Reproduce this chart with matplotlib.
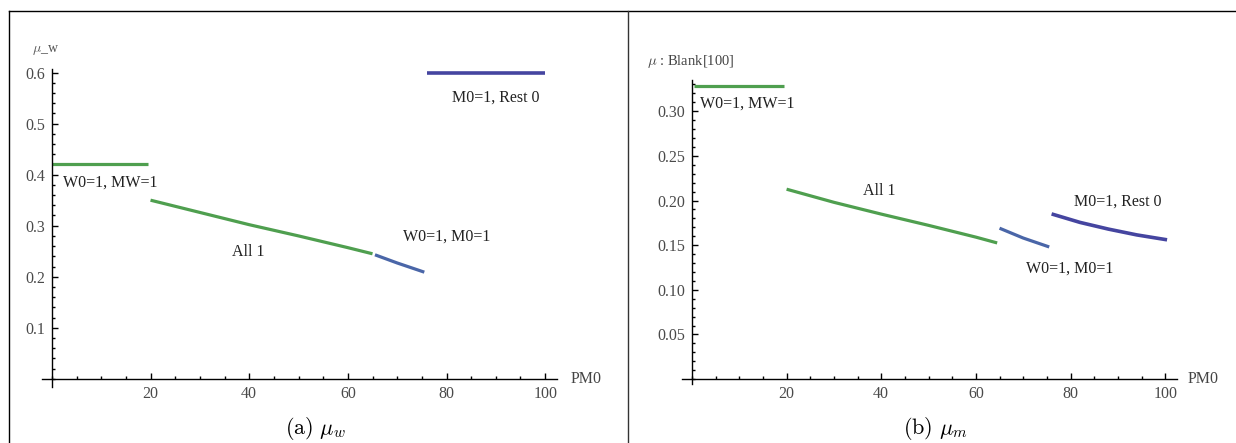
import numpy as np
import matplotlib
matplotlib.use("Agg")
import matplotlib.pyplot as plt
from matplotlib.ticker import MultipleLocator, FormatStrFormatter
from matplotlib.lines import Line2D

plt.rcParams['mathtext.fontset'] = 'cm'

# %% Daten
# (a) mu_w
a_w0mw_x = [0, 19.5]
a_w0mw_y = [0.42, 0.42]
a_all1_x = [20, 30, 40, 50, 60, 65]
a_all1_y = [0.350, 0.326, 0.302, 0.280, 0.257, 0.245]
a_w0m0_x = [65.5, 70, 75.5]
a_w0m0_y = [0.243, 0.227, 0.209]
a_m0_x = [76, 100]
a_m0_y = [0.60, 0.60]

# (b) mu_m
b_w0mw_x = [0.5, 19.5]
b_w0mw_y = [0.328, 0.328]
b_all1_x = [20, 30, 40, 50, 60, 64.5]
b_all1_y = [0.2127, 0.1980, 0.1848, 0.1722, 0.1590, 0.1525]
b_w0m0_x = [65, 70, 75.5]
b_w0m0_y = [0.169, 0.158, 0.148]
b_m0_x = [76, 82, 88, 94, 100.4]
b_m0_y = [0.185, 0.1755, 0.168, 0.1615, 0.156]

gruen = '#4f9f4f'
blau = '#4a66a8'
lila = '#4545a0'

fig = plt.figure(figsize=(12.36, 4.43), dpi=100)
W, H = 1236, 443


def px_axes(x0, x1, y0, y1):
    # Achsen in Pixelkoordinaten (y von oben)
    return fig.add_axes([x0 / W, (H - y1) / H, (x1 - x0) / W, (y1 - y0) / H])


def style(ax, xlim, ylim, major_y, minor_y, fmt):
    ax.set_xlim(*xlim)
    ax.set_ylim(*ylim)
    for s in ['top', 'right']:
        ax.spines[s].set_visible(False)
    ax.spines['left'].set_position(('data', 0))
    ax.spines['bottom'].set_position(('data', 0))
    ax.spines['left'].set_linewidth(1.0)
    ax.spines['bottom'].set_linewidth(1.0)
    ax.xaxis.set_major_locator(plt.FixedLocator([20, 40, 60, 80, 100]))
    ax.xaxis.set_minor_locator(MultipleLocator(5))
    ax.yaxis.set_major_locator(MultipleLocator(major_y))
    ax.yaxis.set_minor_locator(MultipleLocator(minor_y))
    ax.yaxis.set_major_formatter(FormatStrFormatter(fmt))
    ax.tick_params(which='both', direction='in', width=1.0, colors='black',
                   labelcolor='#4a4a4a', labelsize=11.5, labelfontfamily='Liberation Serif')
    ax.tick_params(which='major', length=4.5, pad=5)
    ax.tick_params(which='minor', length=2.3)
    ticks = [t for t in ax.get_yticks() if 0 < t <= ylim[1]]
    ax.set_yticks(ticks)
    ax.patch.set_alpha(0)


serif = dict(family='Liberation Serif', fontsize=11.5, color='#222222')

# %% Panel (a)
ax1 = px_axes(42, 557, 69, 387)
ax1.plot(a_w0mw_x, a_w0mw_y, color=gruen, lw=2.3, solid_capstyle='butt')
ax1.plot(a_all1_x, a_all1_y, color=gruen, lw=2.3, solid_capstyle='butt')
ax1.plot(a_w0m0_x, a_w0m0_y, color=blau, lw=2.3, solid_capstyle='butt')
ax1.plot(a_m0_x, a_m0_y, color=lila, lw=2.6, solid_capstyle='butt')
style(ax1, (-2.0, 102.4), (-0.016, 0.607), 0.1, 0.02, '%.1f')
ax1.text(11.8, 0.384, 'W0=1, MW=1', ha='center', va='center', **serif)
ax1.text(39.8, 0.249, 'All 1', ha='center', va='center', **serif)
ax1.text(80.1, 0.278, 'W0=1, M0=1', ha='center', va='center', **serif)
ax1.text(90.0, 0.550, 'M0=1, Rest 0', ha='center', va='center', **serif)
fig.text(46 / W, 1 - 50 / H, r'$\mu$_w', family='Liberation Serif', fontsize=10,
         color='#555555', ha='center', va='center')
fig.text(586 / W, 1 - 379 / H, 'PM0', family='Liberation Serif', fontsize=11.5,
         color='#444444', ha='center', va='center')

# %% Panel (b)
ax2 = px_axes(682, 1177, 80, 384)
ax2.plot(b_w0mw_x, b_w0mw_y, color=gruen, lw=2.3, solid_capstyle='butt')
ax2.plot(b_all1_x, b_all1_y, color=gruen, lw=2.3, solid_capstyle='butt')
ax2.plot(b_w0m0_x, b_w0m0_y, color=blau, lw=2.3, solid_capstyle='butt')
ax2.plot(b_m0_x, b_m0_y, color=lila, lw=2.6, solid_capstyle='butt')
style(ax2, (-2.1, 102.5), (-0.0055, 0.335), 0.05, 0.01, '%.2f')
ax2.text(11.6, 0.309, 'W0=1, MW=1', ha='center', va='center', **serif)
ax2.text(39.5, 0.2105, 'All 1', ha='center', va='center', **serif)
ax2.text(89.9, 0.199, 'M0=1, Rest 0', ha='center', va='center', **serif)
ax2.text(79.9, 0.124, 'W0=1, M0=1', ha='center', va='center', **serif)
fig.text(691 / W, 1 - 62 / H, r'$\mu$ : Blank[100]', family='Liberation Serif',
         fontsize=10.5, color='#444444', ha='center', va='center')
fig.text(1203 / W, 1 - 379 / H, 'PM0', family='Liberation Serif', fontsize=11.5,
         color='#444444', ha='center', va='center')

# %% Beschriftungen und Rahmen
fig.text(315 / W, 1 - 429 / H, r'$\mathrm{(a)}\ \mu_w$', fontsize=16, ha='center', va='center')
fig.text(935 / W, 1 - 429 / H, r'$\mathrm{(b)}\ \mu_m$', fontsize=16, ha='center', va='center')

fig.add_artist(Line2D([9 / W, 1], [1 - 10.5 / H, 1 - 10.5 / H], color='black', lw=1.0,
                      transform=fig.transFigure))
fig.add_artist(Line2D([9 / W, 9 / W], [0, 1 - 10.5 / H], color='black', lw=1.0,
                      transform=fig.transFigure))
fig.add_artist(Line2D([628 / W, 628 / W], [0, 1 - 10.5 / H], color='#333333', lw=1.0,
                      transform=fig.transFigure))

fig.savefig('out.png', dpi=100)
